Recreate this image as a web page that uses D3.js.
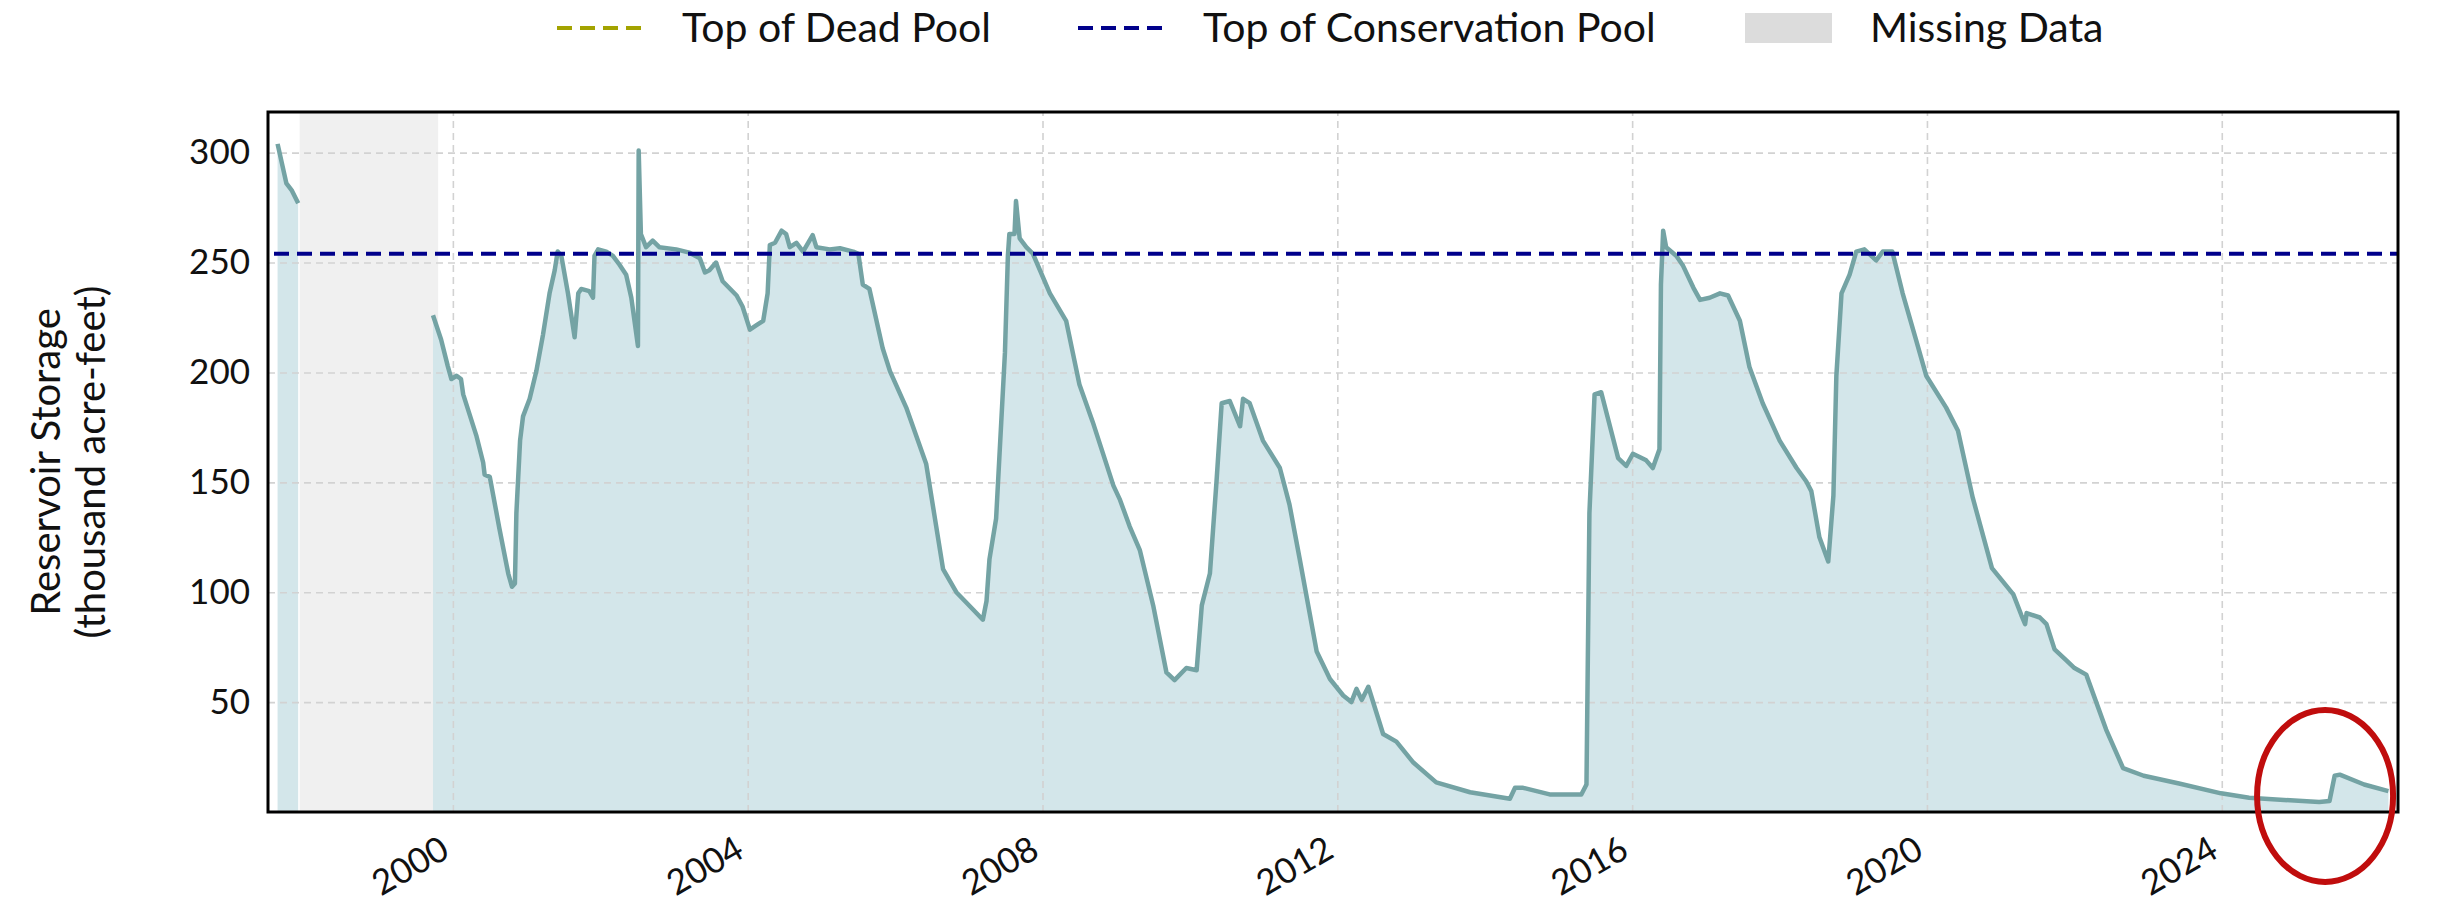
<!DOCTYPE html>
<html>
<head>
<meta charset="utf-8">
<script src="https://cdn.jsdelivr.net/npm/d3@7"></script>
<style>
    body { margin: 0; background: white; }
    svg text { font-family: Lato, "Open Sans", sans-serif; fill: #111; }
</style>
</head>
<body>
<svg id="vis-storage" width="2448" height="906"></svg>
<script>

// storage readings, [decimal year, thousand acre-feet]; null breaks the line
const storage = [
    [1997.62, 304], [1997.74, 286], [1997.81, 283], [1997.90, 277],
    [1998.50, null],
    [1999.73, 226], [1999.84, 215], [1999.93, 203], [1999.98, 197], [2000.05, 198.5],
    [2000.11, 197], [2000.14, 190], [2000.32, 171], [2000.41, 159], [2000.43, 153.5],
    [2000.50, 152.5], [2000.63, 129], [2000.75, 108.5], [2000.80, 102.5], [2000.84, 104],
    [2000.86, 136], [2000.91, 169], [2000.95, 180], [2001.04, 188], [2001.13, 200.5],
    [2001.22, 217], [2001.31, 236], [2001.38, 246.5], [2001.42, 255], [2001.47, 253],
    [2001.56, 236], [2001.65, 216], [2001.70, 236], [2001.74, 238], [2001.85, 237],
    [2001.90, 234], [2001.92, 253], [2001.97, 256], [2002.08, 255], [2002.17, 253],
    [2002.26, 249], [2002.35, 244.5], [2002.42, 234], [2002.49, 217], [2002.51, 212],
    [2002.52, 301], [2002.55, 263], [2002.62, 257], [2002.71, 260], [2002.80, 257],
    [2003.03, 256], [2003.21, 254.5], [2003.35, 252], [2003.42, 245.5], [2003.48, 246.5],
    [2003.57, 250], [2003.66, 241.5], [2003.85, 235], [2003.93, 230], [2004.03, 219.5],
    [2004.12, 221.5], [2004.21, 223.5], [2004.27, 236], [2004.30, 258], [2004.37, 259],
    [2004.46, 264.5], [2004.52, 263], [2004.57, 257], [2004.66, 259], [2004.75, 255],
    [2004.88, 262.5], [2004.93, 257], [2005.11, 256], [2005.25, 256.5], [2005.43, 255],
    [2005.50, 254], [2005.56, 240], [2005.65, 238], [2005.83, 211], [2005.93, 200.5],
    [2006.15, 184], [2006.42, 158.5], [2006.65, 110.5], [2006.83, 100], [2007.06, 92],
    [2007.19, 87.5], [2007.24, 96], [2007.28, 115], [2007.37, 133.5], [2007.44, 177.5],
    [2007.49, 209], [2007.53, 253], [2007.55, 263], [2007.62, 263], [2007.64, 278],
    [2007.69, 261], [2007.78, 257], [2007.87, 254], [2008.10, 236], [2008.32, 223.5],
    [2008.50, 194.5], [2008.68, 177.5], [2008.96, 148.5], [2009.05, 142], [2009.18, 130],
    [2009.32, 119], [2009.50, 94], [2009.68, 63.5], [2009.79, 60], [2009.95, 65.5],
    [2010.09, 64.5], [2010.16, 94], [2010.27, 108.5], [2010.36, 150.5], [2010.43, 186],
    [2010.54, 187], [2010.68, 175.5], [2010.72, 188], [2010.81, 186], [2010.99, 169],
    [2011.22, 156.5], [2011.35, 140], [2011.49, 115], [2011.72, 73], [2011.90, 60.5],
    [2012.08, 53], [2012.19, 50], [2012.26, 56], [2012.33, 51], [2012.42, 57],
    [2012.62, 35.5], [2012.80, 32], [2013.03, 22.5], [2013.34, 13.5], [2013.80, 9],
    [2014.34, 6], [2014.41, 11], [2014.52, 11], [2014.88, 8], [2015.31, 8],
    [2015.38, 12.5], [2015.42, 136], [2015.49, 190], [2015.58, 191], [2015.81, 161],
    [2015.92, 157.5], [2016.01, 163], [2016.19, 160], [2016.28, 156.5], [2016.37, 165],
    [2016.39, 240], [2016.42, 264.5], [2016.46, 257], [2016.60, 253], [2016.69, 248.5],
    [2016.83, 238.5], [2016.92, 233], [2017.05, 234], [2017.19, 236], [2017.30, 235],
    [2017.46, 223.5], [2017.59, 202.5], [2017.77, 186], [2018.00, 169], [2018.23, 156.5],
    [2018.36, 150.5], [2018.43, 146], [2018.54, 125], [2018.66, 114], [2018.73, 144],
    [2018.77, 198.5], [2018.84, 236], [2018.95, 244.5], [2019.04, 255], [2019.15, 256],
    [2019.31, 251], [2019.40, 255], [2019.53, 255], [2019.67, 236], [2019.85, 215],
    [2019.99, 198.5], [2020.26, 184], [2020.42, 173.5], [2020.62, 143], [2020.88, 111],
    [2021.17, 99], [2021.28, 89.5], [2021.33, 85.5], [2021.35, 90.5], [2021.53, 88.5],
    [2021.62, 85.5], [2021.73, 74], [2021.89, 69], [2022.00, 65.5], [2022.16, 62.5],
    [2022.43, 37.5], [2022.66, 20], [2022.94, 16.5], [2023.42, 13], [2023.99, 8.5],
    [2024.37, 6.5], [2025.32, 4.5], [2025.46, 5], [2025.53, 16.5], [2025.60, 17],
    [2025.93, 12.5], [2026.26, 9.5]
];

const missing_span = [1997.92, 1999.80];

const conservation_pool = 254;

const x_range = [1997.49, 2026.39];
const y_range = [0, 318.5];

const year_ticks = [2000, 2004, 2008, 2012, 2016, 2020, 2024];
const storage_ticks = [50, 100, 150, 200, 250, 300];

const legend_labels = ['Top of Dead Pool', 'Top of Conservation Pool', 'Missing Data'];

const y_title = ['Reservoir Storage', '(thousand acre-feet)'];

// red ring drawn round the latest readings: centre [year, value]
const highlight = [2025.40, 7.3];


const chart = {

    dims : { left : 268, right : 2398, top : 112, bottom : 812 },

    colors : {
        line : '#74a3a4',
        fill : '#d3e6ea',
        missing : '#f0f0f0',
        grid : '#d2d2d2',
        conservation : '#00008b',
        dead : '#a3a300',
        ring : '#c00d0d'
    },

    // decimal year to a Date
    to_date : function(y) {

        let yr = Math.floor(y);
        let start = new Date(yr, 0, 1);
        let end = new Date(yr + 1, 0, 1);
        return new Date(+start + (y - yr) * (end - start));

    },

    scales : {},

    make_scales : function() {

        let d = chart.dims;

        chart.scales.x = d3.scaleTime()
            .domain(x_range.map(chart.to_date))
            .range([d.left, d.right]);

        chart.scales.y = d3.scaleLinear()
            .domain(y_range)
            .range([d.bottom, d.top]);

    },

    render : {

        missing : function(svg) {

            let x = chart.scales.x;
            let d = chart.dims;

            svg.append('rect')
                .attr('x', x(chart.to_date(missing_span[0])))
                .attr('y', d.top)
                .attr('width', x(chart.to_date(missing_span[1])) - x(chart.to_date(missing_span[0])))
                .attr('height', d.bottom - d.top)
                .attr('fill', chart.colors.missing);

        },

        area : function(svg) {

            let x = chart.scales.x;
            let y = chart.scales.y;

            let area = d3.area()
                .defined(p => p[1] !== null)
                .x(p => x(chart.to_date(p[0])))
                .y0(y(0))
                .y1(p => y(p[1]));

            svg.append('path')
                .datum(storage)
                .attr('d', area)
                .attr('fill', chart.colors.fill);

        },

        grid : function(svg) {

            let d = chart.dims;

            let yAxis = d3.axisLeft(chart.scales.y)
                .tickValues(storage_ticks)
                .tickSize(-(d.right - d.left))
                .tickFormat(d3.format('d'))
                .tickPadding(18);

            let gy = svg.append('g')
                .attr('transform', `translate(${d.left},0)`)
                .call(yAxis);

            gy.select('.domain').remove();
            gy.selectAll('line')
                .attr('stroke', chart.colors.grid)
                .attr('stroke-width', 1.6)
                .attr('stroke-dasharray', '7,5');
            gy.selectAll('text')
                .attr('font-size', 35)
                .attr('fill', '#1a1a1a');

            let xAxis = d3.axisBottom(chart.scales.x)
                .tickValues(year_ticks.map(chart.to_date))
                .tickSize(-(d.bottom - d.top))
                .tickFormat(d3.timeFormat('%Y'));

            let gx = svg.append('g')
                .attr('transform', `translate(0,${d.bottom})`)
                .call(xAxis);

            gx.select('.domain').remove();
            gx.selectAll('line')
                .attr('stroke', chart.colors.grid)
                .attr('stroke-width', 1.6)
                .attr('stroke-dasharray', '7,5');
            gx.selectAll('text')
                .attr('font-size', 35)
                .attr('fill', '#1a1a1a')
                .attr('text-anchor', 'end')
                .attr('y', 0)
                .attr('dy', 0)
                .attr('transform', 'translate(-2,44) rotate(-30)');

        },

        line : function(svg) {

            let x = chart.scales.x;
            let y = chart.scales.y;

            let line = d3.line()
                .defined(p => p[1] !== null)
                .x(p => x(chart.to_date(p[0])))
                .y(p => y(p[1]));

            svg.append('path')
                .datum(storage)
                .attr('d', line)
                .attr('fill', 'none')
                .attr('stroke', chart.colors.line)
                .attr('stroke-width', 4.5)
                .attr('stroke-linejoin', 'round');

            // conservation pool
            svg.append('line')
                .attr('x1', chart.dims.left + 6)
                .attr('x2', chart.dims.right)
                .attr('y1', y(conservation_pool))
                .attr('y2', y(conservation_pool))
                .attr('stroke', chart.colors.conservation)
                .attr('stroke-width', 4)
                .attr('stroke-dasharray', '15,8');

        },

        frame : function(svg) {

            let d = chart.dims;

            svg.append('rect')
                .attr('x', d.left)
                .attr('y', d.top)
                .attr('width', d.right - d.left)
                .attr('height', d.bottom - d.top)
                .attr('fill', 'none')
                .attr('stroke', 'black')
                .attr('stroke-width', 3);

        },

        ring : function(svg) {

            let x = chart.scales.x;
            let y = chart.scales.y;

            svg.append('ellipse')
                .attr('cx', x(chart.to_date(highlight[0])))
                .attr('cy', y(highlight[1]))
                .attr('rx', 68)
                .attr('ry', 86)
                .attr('fill', 'none')
                .attr('stroke', chart.colors.ring)
                .attr('stroke-width', 6);

        },

        labels : function(svg) {

            let cy = (chart.dims.top + chart.dims.bottom) / 2;

            svg.selectAll('text.ytitle')
                .data(y_title)
                .join('text')
                .attr('class', 'ytitle')
                .attr('font-size', 40)
                .attr('text-anchor', 'middle')
                .attr('transform', (t, i) => `translate(${60 + i * 45},${cy}) rotate(-90)`)
                .text(t => t);

        },

        legend : function(svg) {

            let c = chart.colors;
            let ly = 28;

            let items = [
                { x : 557, text_x : 682, kind : 'dash', color : c.dead },
                { x : 1078, text_x : 1203, kind : 'dash', color : c.conservation },
                { x : 1745, text_x : 1870, kind : 'patch', color : '#dcdcdc' }
            ];

            let g = svg.append('g');

            items.forEach((it, i) => {

                if (it.kind === 'dash') {
                    g.append('line')
                        .attr('x1', it.x).attr('x2', it.x + 90)
                        .attr('y1', ly).attr('y2', ly)
                        .attr('stroke', it.color)
                        .attr('stroke-width', 4)
                        .attr('stroke-dasharray', '15,8');
                } else {
                    g.append('rect')
                        .attr('x', it.x).attr('y', ly - 15)
                        .attr('width', 87).attr('height', 30)
                        .attr('fill', it.color);
                }

                g.append('text')
                    .attr('x', it.text_x)
                    .attr('y', ly)
                    .attr('dy', '0.35em')
                    .attr('font-size', 41)
                    .text(legend_labels[i]);

            });

        }

    },

    ctrl : {

        begin : function() {

            let svg = d3.select('svg#vis-storage');

            chart.make_scales();
            chart.render.missing(svg);
            chart.render.area(svg);
            chart.render.grid(svg);
            chart.render.line(svg);
            chart.render.frame(svg);
            chart.render.ring(svg);
            chart.render.labels(svg);
            chart.render.legend(svg);

        }

    }

};

chart.ctrl.begin();

</script>
</body>
</html>
